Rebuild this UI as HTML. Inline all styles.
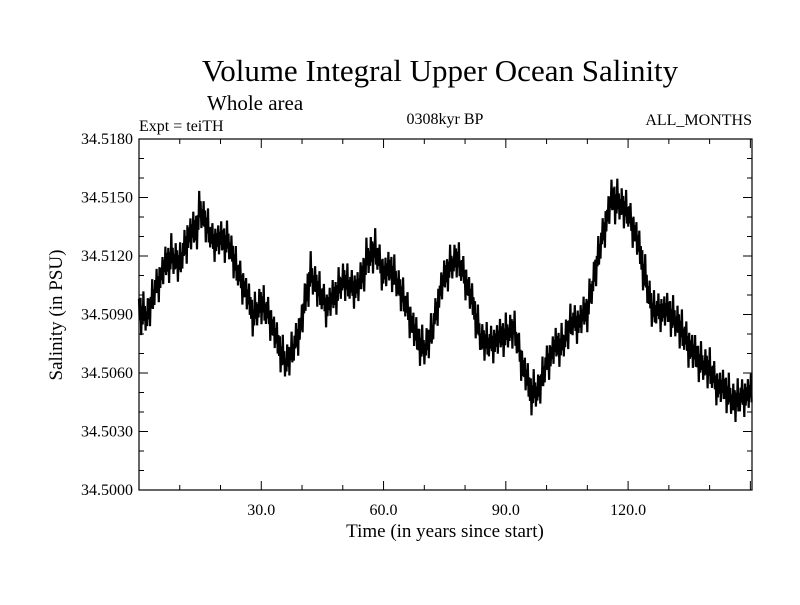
<!DOCTYPE html>
<html><head><meta charset="utf-8"><style>
body{margin:0;background:#fff;}
svg text{font-family:"Liberation Serif",serif;fill:#000;}
</style></head><body>
<svg id="chart" width="800" height="600" viewBox="0 0 800 600" xmlns="http://www.w3.org/2000/svg">
<rect width="800" height="600" fill="#fff"/>
<text x="440" y="81" font-size="31" text-anchor="middle">Volume Integral Upper Ocean Salinity</text>
<text x="207" y="110" font-size="21">Whole area</text>
<text x="139" y="131" font-size="16">Expt = teiTH</text>
<text x="445" y="124" font-size="16" text-anchor="middle">0308kyr BP</text>
<text x="752" y="125" font-size="16" text-anchor="end">ALL_MONTHS</text>
<text transform="translate(62,315) rotate(-90)" font-size="19" text-anchor="middle">Salinity (in PSU)</text>
<text x="445" y="537" font-size="19" text-anchor="middle">Time (in years since start)</text>
<g id="ticks"></g>
<g id="series"></g>
<rect x="139" y="139" width="613" height="351" fill="none" stroke="#000" stroke-width="1.2"/>
</svg>
<script>
const years=[0,2,4,6,8,10,12,14,15,16,18,20,22,24,26,28,30,32,34,36,38,40,42,44,46,48,50,52,54,56,58,60,62,64,66,68,70,72,74,76,78,80,82,84,86,88,90,92,94,96,98,100,102,104,106,108,110,112,114,116,118,120,122,124,126,128,130,132,134,136,138,140,142,144,146,148,150.4];
const salinity=[34.5092,34.5089,34.5103,34.5113,34.5120,34.5116,34.5130,34.5133,34.5144,34.5139,34.5128,34.5128,34.5127,34.5113,34.5103,34.5089,34.5096,34.5089,34.5075,34.5065,34.5073,34.5087,34.5111,34.5103,34.5094,34.5099,34.5108,34.5104,34.5104,34.5119,34.5123,34.5111,34.5113,34.5103,34.5092,34.5078,34.5072,34.5082,34.5103,34.5114,34.5119,34.5109,34.5094,34.5077,34.5075,34.5077,34.5080,34.5083,34.5065,34.5050,34.5051,34.5065,34.5073,34.5075,34.5086,34.5086,34.5092,34.5113,34.5133,34.5149,34.5147,34.5142,34.5130,34.5111,34.5092,34.5092,34.5091,34.5086,34.5078,34.5070,34.5065,34.5062,34.5053,34.5051,34.5045,34.5048,34.5050];
const noiseAmp=[0.0012,0.0011,0.0011,0.0011,0.0012,0.0011,0.0012,0.0012,0.0012,0.0011,0.0011,0.0011,0.0011,0.0011,0.0011,0.0011,0.0012,0.0011,0.0011,0.0011,0.0011,0.0012,0.0012,0.0011,0.0011,0.0011,0.0011,0.0011,0.0011,0.0012,0.0012,0.0011,0.0011,0.0011,0.0011,0.0012,0.0011,0.0011,0.0011,0.0011,0.0011,0.0011,0.0011,0.0011,0.0011,0.0011,0.0011,0.0011,0.0011,0.0012,0.0011,0.0011,0.0011,0.0011,0.0011,0.0011,0.0011,0.0011,0.0011,0.0012,0.0012,0.0011,0.0011,0.0012,0.0011,0.0011,0.0011,0.0012,0.0012,0.0012,0.0011,0.0012,0.0011,0.0011,0.0012,0.0011,0.0011];
const xTickLabels=["30.0","60.0","90.0","120.0"];
const xTickValues=[30,60,90,120];
const yTickLabels=["34.5000","34.5030","34.5060","34.5090","34.5120","34.5150","34.5180"];
const yTickValues=[34.5000,34.5030,34.5060,34.5090,34.5120,34.5150,34.5180];

const X0=139,X1=752,Y0=490,Y1=139,XMIN=0,XMAX=150.4,YMIN=34.5,YMAX=34.518;
const sx=v=>X0+(v-XMIN)/(XMAX-XMIN)*(X1-X0);
const sy=v=>Y0-(v-YMIN)/(YMAX-YMIN)*(Y0-Y1);
const NS="http://www.w3.org/2000/svg";
const tg=document.getElementById('ticks');
function line(x1,y1,x2,y2,name){const l=document.createElementNS(NS,'line');
l.setAttribute('x1',x1);l.setAttribute('y1',y1);l.setAttribute('x2',x2);l.setAttribute('y2',y2);
l.setAttribute('stroke','#000');l.setAttribute('stroke-width','1');


tg.appendChild(l);}
for(let v=10;v<XMAX;v+=10){const x=sx(v);const major=v%30===0;const L=major?9:5;
line(x,Y0,x,Y0-L,'x-tick');line(x,Y1,x,Y1+L,'x-tick-top');}
for(let i=1;i<18;i++){const v=YMIN+i*0.001;const y=sy(v);const major=i%3===0;const L=major?9:5;
line(X0,y,X0+L,y,'y-tick');line(X1,y,X1-L,y,'y-tick-right');}
xTickLabels.forEach((t,i)=>{const e=document.createElementNS(NS,'text');
e.setAttribute('x',sx(xTickValues[i]));e.setAttribute('y',Y0+25);e.setAttribute('font-size','16');e.setAttribute('text-anchor','middle');e.textContent=t;


tg.appendChild(e);});
yTickLabels.forEach((t,i)=>{const e=document.createElementNS(NS,'text');
e.setAttribute('x',X0-6);e.setAttribute('y',sy(yTickValues[i])+5);e.setAttribute('font-size','16');e.setAttribute('text-anchor','end');e.textContent=t;


tg.appendChild(e);});
// series: center from data, rendered with fixed zigzag texture scaled by noiseAmp
const texture=[0.5,-0.4,0.6,-1,0.3,-0.5,1,-0.3,0.4,-0.7,0.2,-0.45,0.75,-0.35,0.5,-0.9,0.35,-0.3,0.95,-0.55,0.25,-0.6,0.45,-0.25,0.8,-0.4,0.3,-1,0.55,-0.5,0.35,-0.3,0.7,-0.65,0.4,-0.2,0.9,-0.45];
const pts=[];let k=0;
for(let t=XMIN;t<=XMAX;t+=0.18){
let j=0;while(j<years.length-2&&years[j+1]<t)j++;
const f=Math.min(1,Math.max(0,(t-years[j])/(years[j+1]-years[j])));
const c=salinity[j]+(salinity[j+1]-salinity[j])*f;
const a=noiseAmp[j]+(noiseAmp[j+1]-noiseAmp[j])*f;
const v=c+a*texture[k%texture.length];k++;
pts.push(sx(t).toFixed(1)+','+sy(v).toFixed(1));}
const pl=document.createElementNS(NS,'polyline');
pl.setAttribute('points',pts.join(' '));pl.setAttribute('fill','none');pl.setAttribute('stroke','#000');pl.setAttribute('stroke-width','2.2');


document.getElementById('series').appendChild(pl);
</script>
</body></html>
